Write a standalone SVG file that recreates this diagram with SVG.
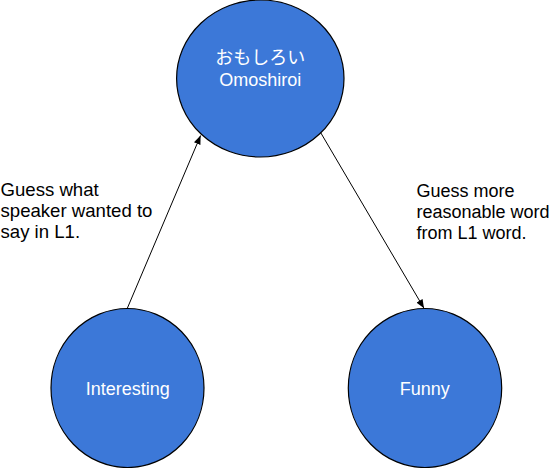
<svg xmlns="http://www.w3.org/2000/svg" width="552" height="468" viewBox="0 0 552 468">
  <defs>
    <marker id="arrow" viewBox="0 0 10 8" refX="10" refY="4" markerWidth="9" markerHeight="7" markerUnits="userSpaceOnUse" orient="auto">
      <path d="M0,0 L10,4 L0,8 Z" fill="#000"/>
    </marker>
    <style>
      .node { fill: #3c78d8; stroke: #000; stroke-width: 1.2; }
      .nt { font-family: "Liberation Sans", Arial, "Noto Sans CJK JP", sans-serif; font-size: 18px; fill: #ffffff; text-anchor: middle; }
      .lbl { font-family: "Liberation Sans", Arial, sans-serif; font-size: 18px; fill: #000; }
      .lbl.left { font-size: 18.6px; }
      .edge { stroke: #000; stroke-width: 1; fill: none; marker-end: url(#arrow); }
    </style>
  </defs>
  <rect width="552" height="468" fill="#ffffff"/>
  <g id="connectors">
    <line class="edge" x1="127.3" y1="308.3" x2="200.6" y2="135.5"/>
    <line class="edge" x1="320" y1="131.5" x2="424" y2="308.3"/>
  </g>
  <g id="node-omoshiroi">
    <ellipse class="node" cx="260.3" cy="78.5" rx="83.7" ry="78.5"/>
    <text class="nt" x="260.3" y="64">おもしろい</text>
    <text class="nt" x="260.3" y="86">Omoshiroi</text>
  </g>
  <g id="node-interesting">
    <ellipse class="node" cx="127.5" cy="388" rx="76.5" ry="79.5"/>
    <text class="nt" x="127.8" y="394.5">Interesting</text>
  </g>
  <g id="node-funny">
    <ellipse class="node" cx="425" cy="388" rx="76.7" ry="79.5"/>
    <text class="nt" x="424.7" y="394.5">Funny</text>
  </g>
  <g id="label-left">
    <text class="lbl left" x="0.5" y="196">Guess what</text>
    <text class="lbl left" x="0.5" y="217">speaker wanted to</text>
    <text class="lbl left" x="0.5" y="238">say in L1.</text>
  </g>
  <g id="label-right">
    <text class="lbl" x="416.5" y="197">Guess more</text>
    <text class="lbl" x="416.5" y="218">reasonable word</text>
    <text class="lbl" x="416.5" y="239">from L1 word.</text>
  </g>
</svg>
